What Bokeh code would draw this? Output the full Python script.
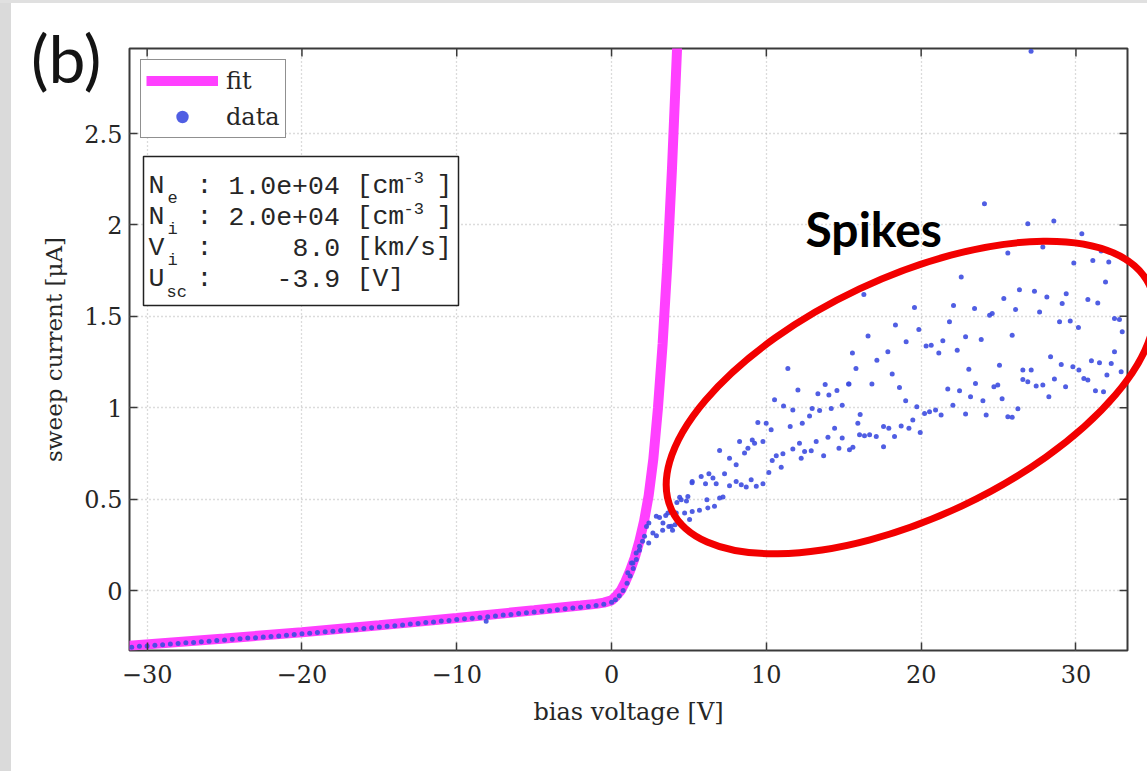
from bokeh.plotting import figure
from bokeh.models import Range1d, FixedTicker, Legend, LegendItem, Div
from bokeh.layouts import row, column
from bokeh.core.properties import value
from bokeh.embed import file_html
from bokeh.resources import INLINE
import math

# ---------------------------------------------------------------- data
x_ticks = [-30, -20, -10, 0, 10, 20, 30]
x_tick_labels = ["\u221230", "\u221220", "\u221210", "0", "10", "20", "30"]
y_ticks = [0, 0.5, 1, 1.5, 2, 2.5]
y_tick_labels = ["0", "0.5", "1", "1.5", "2", "2.5"]

# probe model fit (bias voltage [V], sweep current [uA])
fit_voltage = [-31.2, -25, -20, -15, -10, -5, -2, -1, -0.5, 0, 0.3, 0.6, 0.9,
               1.2, 1.5, 1.8, 2.1, 2.4, 2.7, 3.0, 3.3, 3.6, 3.9, 4.2, 4.4]
fit_current = [-0.302, -0.262, -0.228, -0.190, -0.150, -0.108, -0.082, -0.073,
               -0.066, -0.054, -0.030, 0.0, 0.05, 0.11, 0.18, 0.27, 0.38, 0.52,
               0.72, 1.0, 1.35, 1.78, 2.3, 2.9, 3.3]

# measured sweep, retarding part (follows the fit)
sweep_voltage = [-31.0, -30.5, -30.0, -29.5, -29.0, -28.5, -28.0, -27.5, -27.0,
                 -26.5, -26.0, -25.5, -25.0, -24.5, -24.0, -23.5, -23.0, -22.5,
                 -22.0, -21.5, -21.0, -20.5, -20.0, -19.5, -19.0, -18.5, -18.0,
                 -17.5, -17.0, -16.5, -16.0, -15.5, -15.0, -14.5, -14.0, -13.5,
                 -13.0, -12.5, -12.0, -11.5, -11.0, -10.5, -10.0, -9.5, -9.0,
                 -8.5, -8.0, -7.5, -7.0, -6.5, -6.0, -5.5, -5.0, -4.5, -4.0,
                 -3.5, -3.0, -2.5, -2.0, -1.5, -1.0, -0.5, 0.0, 0.25, 0.5, 0.75,
                 1.0, 1.2, 1.4, 1.6, 1.8, 2.0, -8.1]
sweep_current = [-0.310, -0.305, -0.303, -0.299, -0.297, -0.293, -0.290, -0.286,
                 -0.284, -0.280, -0.277, -0.273, -0.270, -0.267, -0.264, -0.260,
                 -0.258, -0.254, -0.251, -0.248, -0.244, -0.241, -0.237, -0.233,
                 -0.230, -0.226, -0.223, -0.219, -0.216, -0.212, -0.208, -0.204,
                 -0.199, -0.196, -0.192, -0.188, -0.183, -0.180, -0.175, -0.172,
                 -0.167, -0.164, -0.159, -0.155, -0.151, -0.147, -0.143, -0.139,
                 -0.134, -0.131, -0.126, -0.122, -0.117, -0.113, -0.109, -0.105,
                 -0.100, -0.096, -0.091, -0.087, -0.082, -0.075, -0.064, -0.050,
                 -0.028, 0.0, 0.04, 0.08, 0.12, 0.17, 0.22, 0.27, -0.168]

# measured sweep, electron-saturation part with spikes
spike_voltage = [
    1.05, 1.29, 1.38, 1.59, 1.81, 2.13, 2.26, 2.41, 2.4, 2.67, 2.89, 2.9, 3.1,
    3.3, 3.32, 3.5, 3.64, 3.7, 3.85, 3.94, 4.1, 4.18, 4.22, 4.4, 4.5, 4.5,
    4.72, 4.84, 4.93, 5.04, 5.2, 5.21, 5.21, 5.68, 5.79, 6.07, 6.16, 6.22,
    6.29, 6.55, 6.65, 6.76, 6.98, 6.98, 7.2, 7.3, 7.62, 7.62, 8.05, 8.05,
    8.27, 8.38, 8.59, 8.7, 8.81, 9.02, 9.09, 9.24, 9.35, 9.45, 9.78, 9.78,
    9.99, 10.16, 10.31, 10.38, 10.53, 10.64, 10.96, 11.07, 11.11, 11.39,
    11.54, 11.71, 11.71, 12.04, 12.14, 12.25, 12.32, 12.47, 12.79, 12.9,
    12.96, 13.22, 13.33, 13.44, 13.7, 13.8, 13.98, 14.04, 14.19, 14.41,
    14.56, 14.69, 14.9, 14.9, 15.31, 15.34, 15.37, 15.56, 15.59, 15.79,
    15.91, 16.02, 16.06, 16.3, 16.34, 16.57, 16.67, 16.82, 17.1, 17.14,
    17.57, 17.57, 17.85, 17.91, 18.13, 18.28, 18.34, 18.6, 18.71, 19.0,
    19.03, 19.21, 19.46, 19.57, 19.72, 19.85, 19.94, 20.22, 20.32, 20.54,
    20.65, 20.93, 21.14, 21.29, 21.4, 21.72, 21.83, 22.05, 22.09, 22.33,
    22.48, 22.59, 22.87, 22.87, 23.08, 23.19, 23.45, 23.51, 23.88, 23.99,
    24.09, 24.2, 24.42, 24.59, 24.7, 24.95, 25.06, 25.23, 25.34, 25.6, 25.6,
    25.88, 25.88, 26.1, 26.25, 26.35, 26.57, 26.57, 26.89, 26.89, 27.1,
    27.11, 27.32, 27.43, 27.65, 27.86, 27.86, 28.12, 28.25, 28.36, 28.57,
    28.61, 28.94, 29.05, 29.11, 29.33, 29.37, 29.63, 29.8, 29.86, 30.16,
    30.19, 30.38, 30.51, 30.77, 30.77, 31.0, 31.09, 31.26, 31.41, 31.52,
    31.63, 31.78, 31.91, 32.0, 32.12, 32.28, 32.49, 32.49, 32.81, 32.92,
    32.99]
spike_current = [
    0.097, 0.15, 0.151, 0.206, 0.242, 0.297, 0.35, 0.37, 0.26, 0.315, 0.406,
    0.30, 0.40, 0.33, 0.37, 0.41, 0.424, 0.35, 0.351, 0.33, 0.36, 0.424,
    0.482, 0.51, 0.497, 0.37, 0.424, 0.49, 0.515, 0.388, 0.59, 0.597, 0.433,
    0.439, 0.624, 0.584, 0.497, 0.452, 0.639, 0.615, 0.461, 0.584, 0.766,
    0.506, 0.512, 0.639, 0.724, 0.573, 0.688, 0.597, 0.815, 0.579, 0.752,
    0.566, 0.779, 0.606, 0.824, 0.806, 0.57, 0.919, 0.815, 0.584, 0.915,
    0.646, 0.879, 0.712, 1.043, 0.737, 0.675, 0.748, 1.01, 1.215, 0.897,
    0.988, 0.774, 1.097, 0.806, 0.724, 0.915, 0.761, 0.955, 0.764, 0.996,
    0.815, 1.076, 0.985, 0.737, 1.127, 0.839, 1.07, 0.996, 0.888, 1.094,
    0.779, 1.014, 0.834, 1.13, 1.13, 0.77, 1.30, 0.784, 1.215, 0.915, 0.852,
    0.963, 1.62, 0.847, 1.393, 0.852, 1.13, 0.843, 1.26, 0.897, 0.787, 1.306,
    0.888, 1.184, 0.842, 1.452, 1.111, 0.9, 1.038, 1.361, 0.888, 0.933,
    1.548, 1.006, 1.428, 0.864, 0.969, 1.337, 0.978, 1.342, 0.988, 1.30,
    0.96, 1.366, 1.102, 1.47, 1.013, 1.559, 1.315, 1.093, 1.715, 1.388,
    0.966, 1.21, 1.06, 1.543, 1.133, 1.373, 1.038, 2.116, 0.96, 1.506, 1.515,
    1.115, 1.124, 1.233, 1.049, 1.597, 1.846, 0.951, 1.397, 0.948, 1.537,
    0.995, 1.646, 1.206, 1.155, 2.007, 1.142, 2.95, 1.206, 1.637, 1.119,
    1.524, 1.879, 1.124, 1.606, 1.06, 1.279, 2.021, 1.157, 1.47, 1.237, 1.57,
    1.115, 1.624, 1.475, 1.224, 1.792, 1.439, 1.206, 1.952, 1.16, 1.592,
    1.151, 1.257, 1.806, 1.093, 1.573, 1.246, 1.857, 1.088, 1.688, 1.179,
    1.797, 1.242, 1.488, 1.306, 1.482, 1.197, 1.415]

# ---------------------------------------------------------------- geometry
X_RANGE = (-31.14, 33.33)
Y_RANGE = (-0.328, 2.965)
PAGE_W, PAGE_H = 1147, 771
PAGE_X0, PAGE_Y0 = 11, 3                                   # grey page edge
FRAME_L, FRAME_R, FRAME_T, FRAME_B = 129, 1127, 48, 650    # frame edges, page px
X_SCALE = (FRAME_R - FRAME_L) / (X_RANGE[1] - X_RANGE[0])  # px per volt
Y_SCALE = (FRAME_B - FRAME_T) / (Y_RANGE[1] - Y_RANGE[0])  # px per uA
TICK_LEN = 8


def px_x(px):
    return X_RANGE[0] + (px - FRAME_L) / X_SCALE


def px_y(py):
    return Y_RANGE[1] - (py - FRAME_T) / Y_SCALE


SERIF = "DejaVu Serif"
MONO = "Liberation Mono"
INK = "#262626"
FRAME_INK = "#3a3a3a"

p = figure(width=PAGE_W - PAGE_X0, height=PAGE_H - PAGE_Y0,
           x_range=Range1d(*X_RANGE), y_range=Range1d(*Y_RANGE),
           output_backend="svg", toolbar_location=None,
           min_border_left=FRAME_L - PAGE_X0, min_border_right=PAGE_W - FRAME_R,
           min_border_top=FRAME_T - PAGE_Y0, min_border_bottom=PAGE_H - FRAME_B,
           background_fill_color="white", border_fill_color="white")
p.outline_line_color = FRAME_INK
p.outline_line_width = 2

xax, yax = p.below[0], p.left[0]
for ax, ticks, labels in [(xax, x_ticks, x_tick_labels), (yax, y_ticks, y_tick_labels)]:
    ax.ticker = FixedTicker(ticks=ticks)
    ax.major_label_overrides = {t: s for t, s in zip(ticks, labels)}
    ax.axis_line_color = None
    ax.major_tick_in = TICK_LEN
    ax.major_tick_out = 0
    ax.major_tick_line_color = FRAME_INK
    ax.major_tick_line_width = 1.5
    ax.minor_tick_line_color = None
    ax.major_label_text_font = SERIF
    ax.major_label_text_color = INK
    ax.major_label_text_font_size = "24px"
    ax.axis_label_text_font = SERIF
    ax.axis_label_text_font_style = "normal"
    ax.axis_label_text_color = INK

xax.axis_label = "bias voltage [V]"
xax.axis_label_text_font_size = "24px"
xax.major_label_standoff = 14
xax.axis_label_standoff = 12
yax.axis_label = "sweep current [\u03bcA]"
yax.axis_label_text_font_size = "23px"
yax.major_label_standoff = 7
yax.axis_label_standoff = 14

# mirrored ticks on the top and right edges of the box
p.segment(x0=x_ticks, x1=x_ticks, y0=[Y_RANGE[1]] * len(x_ticks),
          y1=[Y_RANGE[1] - TICK_LEN / Y_SCALE] * len(x_ticks),
          line_color=FRAME_INK, line_width=1.5)
p.segment(x0=[X_RANGE[1]] * len(y_ticks),
          x1=[X_RANGE[1] - TICK_LEN / X_SCALE] * len(y_ticks),
          y0=y_ticks, y1=y_ticks, line_color=FRAME_INK, line_width=1.5)

p.xgrid.ticker = FixedTicker(ticks=x_ticks)
p.ygrid.ticker = FixedTicker(ticks=y_ticks)
for g in (p.xgrid, p.ygrid):
    g.grid_line_color = "#b8b8b8"
    g.grid_line_dash = "1 3"
    g.grid_line_width = 1.3

# ---------------------------------------------------------------- marks
fit_r = p.line(fit_voltage, fit_current, line_color="#ff40ff", line_width=10)
data_v = sweep_voltage + spike_voltage
data_i = sweep_current + spike_current
data_r = p.scatter(data_v, data_i, marker="circle", size=5,
                   fill_color="#3d4ce0", fill_alpha=0.9, line_color=None)

legend = Legend(items=[LegendItem(label="fit", renderers=[fit_r]),
                       LegendItem(label="data", renderers=[data_r])],
                location="top_left", margin=11, padding=5, spacing=5,
                glyph_width=72, glyph_height=31, label_height=31,
                label_standoff=8, label_text_font=SERIF,
                label_text_font_size="24px", label_text_color=INK,
                border_line_color="#222222", border_line_width=1.5,
                background_fill_color="white", background_fill_alpha=1)
p.add_layout(legend)

# fitted-parameter box
p.quad(left=[px_x(143)], right=[px_x(458)], top=[px_y(156)], bottom=[px_y(305)],
       fill_color="white", line_color="#222222", line_width=1.5)

col = lambda c: 148 + 16 * c
rows = [185, 216, 247, 278]
main_pieces = [
    (0, 0, "N"), (0, 3, ":"), (0, 5, "1.0e+04"), (0, 13, "[cm"), (0, 18, "]"),
    (1, 0, "N"), (1, 3, ":"), (1, 5, "2.0e+04"), (1, 13, "[cm"), (1, 18, "]"),
    (2, 0, "V"), (2, 3, ":"), (2, 9, "8.0"), (2, 13, "[km/s]"),
    (3, 0, "U"), (3, 3, ":"), (3, 8, "-3.9"), (3, 13, "[V]"),
]
p.text(x=[px_x(col(c)) for r, c, t in main_pieces],
       y=[px_y(rows[r]) for r, c, t in main_pieces],
       text=[t for r, c, t in main_pieces],
       text_font=value(MONO), text_font_size=value("26.5px"),
       text_color=INK, text_baseline="alphabetic", text_align="left")

small_pieces = [(167, 197, "e"), (167, 229, "i"), (167, 260, "i"),
                (166, 292, "sc"), (403, 177, "-3"), (403, 208, "-3")]
p.text(x=[px_x(a) for a, b, t in small_pieces],
       y=[px_y(b) for a, b, t in small_pieces],
       text=[t for a, b, t in small_pieces],
       text_font=value(MONO), text_font_size=value("17px"),
       text_color=INK, text_baseline="alphabetic", text_align="left")

p.text(x=[px_x(805)], y=[px_y(228)], text=["Spikes"],
       text_font=value("Lato"), text_font_style="bold",
       text_font_size=value("48px"), text_color="black",
       text_baseline="alphabetic", text_align="left")

# ---------------------------------------------------------------- overlay
# transparent figure over the whole page sharing the same data mapping, so the
# highlight ellipse can run past the right edge of the axes box
overlay = figure(width=PAGE_W - PAGE_X0, height=PAGE_H - PAGE_Y0,
                 x_range=Range1d(px_x(PAGE_X0), px_x(PAGE_W)),
                 y_range=Range1d(px_y(PAGE_H), px_y(PAGE_Y0)),
                 x_axis_location=None, y_axis_location=None,
                 output_backend="svg", toolbar_location=None, min_border=0,
                 background_fill_alpha=0, border_fill_alpha=0,
                 outline_line_color=None, margin=0,
                 styles={"position": "absolute", "left": f"{PAGE_X0}px",
                         "top": f"{PAGE_Y0}px", "z-index": "4",
                         "pointer-events": "none"})
overlay.xgrid.visible = False
overlay.ygrid.visible = False
overlay.ellipse(x=[px_x(910)], y=[px_y(397)], width=[528], height=[240],
                width_units="screen", height_units="screen",
                angle=[math.radians(25.2)], fill_color=None,
                line_color="#f20000", line_width=7)

# ---------------------------------------------------------------- page
top_strip = Div(text="", width=PAGE_W, height=PAGE_Y0, margin=0,
                styles={"background-color": "#e0e0e0"})
left_strip = Div(text="", width=PAGE_X0, height=PAGE_H - PAGE_Y0, margin=0,
                 styles={"background-color": "#dadada"})
panel_tag = Div(text="(b)", width=100, height=76, margin=0,
                styles={"position": "absolute", "left": "31px", "top": "25px",
                        "z-index": "5", "font-family": "Lato",
                        "font-size": "66px", "line-height": "1",
                        "color": "#141414"})
page = column(top_strip, row(left_strip, p, spacing=0), overlay, panel_tag,
              spacing=0, margin=0)

open("out.html", "w").write(file_html(page, INLINE))
